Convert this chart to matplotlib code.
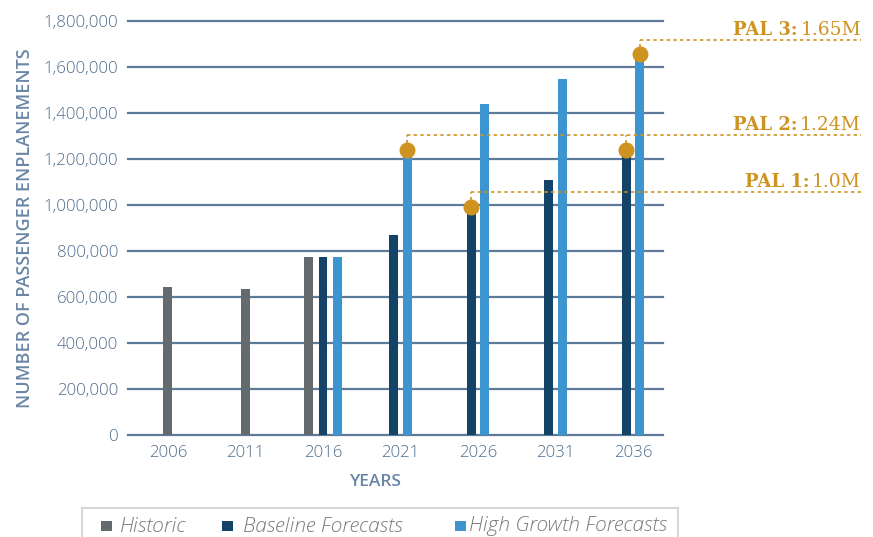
import matplotlib
matplotlib.use("Agg")
import matplotlib.pyplot as plt
from matplotlib.patches import Rectangle
from matplotlib.transforms import offset_copy
import numpy as np

# chart values
years = ["2006", "2011", "2016", "2021", "2026", "2031", "2036"]
historic = [642000, 635000, 773000, None, None, None, None]
baseline = [None, None, 773000, 868000, 992000, 1110000, 1240000]
high_growth = [None, None, 773000, 1240000, 1440000, 1549000, 1655000]

legend_labels = ["Historic", "Baseline Forecasts", "High Growth Forecasts"]

pal_labels = ["PAL 1:", "PAL 2:", "PAL 3:"]
pal_values = ["1.0M", "1.24M", "1.65M"]
pal_line_y = [1055000, 1303000, 1717000]
# (year index, series, which PAL line it connects to)
pal_dots = [(4, "baseline", 0), (3, "high", 1), (6, "baseline", 1), (6, "high", 2)]

C_HIST = "#636b6e"
C_BASE = "#134468"
C_HIGH = "#3d95d0"
C_GOLD = "#cf9321"
C_GRID = "#5d7b98"
C_TICK = "#4d6d8e"
C_LABEL = "#6a86a6"

plt.rcParams["font.family"] = ["Open Sans", "DejaVu Sans"]

W, H = 873, 537
fig = plt.figure(figsize=(W / 100, H / 100), dpi=100)
ax = fig.add_axes([128 / W, 1 - 435 / H, 535 / W, 414 / H])

width = 0.116
x = np.arange(len(years))


def offsets(i):
    present = [s[i] is not None for s in (historic, baseline, high_growth)]
    n = sum(present)
    pitch = 0.19 if n == 3 else 0.175
    pos = (np.arange(n) - (n - 1) / 2) * pitch
    out = {}
    k = 0
    for name, p in zip(("historic", "baseline", "high"), present):
        if p:
            out[name] = pos[k]
            k += 1
    return out


bar_x = {"historic": {}, "baseline": {}, "high": {}}
for i in range(len(years)):
    off = offsets(i)
    for name, series, col in (("historic", historic, C_HIST),
                              ("baseline", baseline, C_BASE),
                              ("high", high_growth, C_HIGH)):
        if series[i] is not None:
            xi = x[i] + off[name]
            bar_x[name][i] = xi
            ax.bar(xi, series[i], width=width, color=col, zorder=3)

ax.set_xlim(-0.516, 6.387)
ax.set_ylim(0, 1800000)
ax.set_yticks(np.arange(0, 1800001, 200000))
ax.set_yticklabels([f"{v:,}" for v in range(0, 1800001, 200000)])
ax.set_xticks(x)
ax.set_xticklabels(years)

for v in range(0, 1800001, 200000):
    ax.axhline(v, color=C_GRID, lw=1.6, zorder=1, clip_on=False)

for s in ax.spines.values():
    s.set_visible(False)
ax.tick_params(axis="both", length=0, colors=C_TICK, labelsize=12.2)
ax.tick_params(axis="y", pad=7)
ax.tick_params(axis="x", pad=7)
for lbl in ax.get_xticklabels() + ax.get_yticklabels():
    lbl.set_fontweight("light")

ax.set_ylabel("NUMBER OF PASSENGER ENPLANEMENTS", color=C_LABEL,
              fontsize=13, fontweight="semibold", labelpad=7)
ax.set_xlabel("YEARS", color=C_LABEL, fontsize=12.5, fontweight="semibold")
ax.xaxis.set_label_coords((376 - 128) / 535, -(482 - 435) / 414)
ax.xaxis.label.set_va("center")

# PAL markers and dotted leaders
xl = ax.get_xlim()
x_end = xl[0] + (861 - 128) / 535 * (xl[1] - xl[0])
series_map = {"baseline": baseline, "high": high_growth}
starts = {}
for i, name, k in pal_dots:
    xi = bar_x[name][i]
    top = series_map[name][i]
    ax.plot([xi, xi], [top, pal_line_y[k]], color=C_GOLD, lw=1.2,
            ls=(0, (2, 2)), zorder=4, clip_on=False)
    ax.plot(xi, top, "o", ms=10.5, color=C_GOLD, zorder=6, clip_on=False)
    starts[k] = min(starts.get(k, xi), xi)

for k in range(len(pal_labels)):
    ax.plot([starts[k], x_end], [pal_line_y[k], pal_line_y[k]], color=C_GOLD,
            lw=1.2, ls=(0, (2, 2)), zorder=4, clip_on=False)

fig.canvas.draw()
renderer = fig.canvas.get_renderer()
for k in range(len(pal_labels)):
    tr = offset_copy(ax.transData, fig=fig, x=0, y=5, units="dots")
    tv = ax.text(x_end, pal_line_y[k], pal_values[k], transform=tr,
                 ha="right", va="baseline", color=C_GOLD, fontsize=13.5,
                 family=["DejaVu Serif"], clip_on=False)
    bb = tv.get_window_extent(renderer)
    tr2 = offset_copy(ax.transData, fig=fig, x=-(bb.width + 3), y=5,
                      units="dots")
    ax.text(x_end, pal_line_y[k], pal_labels[k], transform=tr2,
            ha="right", va="baseline", color=C_GOLD, fontsize=13,
            fontweight="bold", family=["DejaVu Serif"], clip_on=False)

# legend, drawn by hand to match the original's spacing
fig.patches.append(Rectangle((82 / W, -0.05), (678 - 82) / W, 0.05 + 1 - 507.5 / H,
                             transform=fig.transFigure, fill=False,
                             edgecolor="#d8d8d8", lw=1.5))
for col, lab, sx, tx in zip((C_HIST, C_BASE, C_HIGH), legend_labels,
                            (101, 222, 455), (120, 243, 469)):
    fig.patches.append(Rectangle((sx / W, 1 - 531 / H), 11 / W, 10.5 / H,
                                 transform=fig.transFigure, color=col, lw=0))
    fig.text(tx / W, 1 - 531.5 / H, lab, ha="left", va="baseline",
             fontsize=15, style="italic", fontweight="light", color="#7a7a7a")

fig.savefig("out.png", dpi=100)
